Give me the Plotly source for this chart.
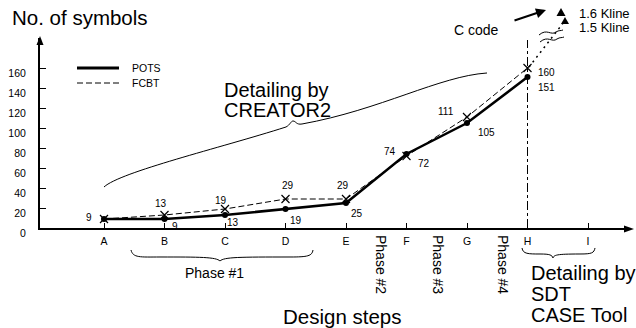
import plotly.graph_objects as go

# ---------------- data ----------------
steps = ["A", "B", "C", "D", "E", "F", "G", "H", "I"]
pots_steps = ["A", "B", "C", "D", "E", "F", "G", "H"]
pots_values = [9, 9, 13, 19, 25, 74, 105, 151]
fcbt_steps = ["A", "B", "C", "D", "E", "F", "G", "H"]
fcbt_values = [9, 13, 19, 29, 29, 72, 111, 160]
y_ticks = [0, 20, 40, 60, 80, 100, 120, 140, 160]
kline_labels = ["1.6 Kline", "1.5 Kline"]

FONT = "Arial, 'Liberation Sans', sans-serif"

# ---------------- geometry helpers (layout only) ----------------
L, T, W, H = 40, 38, 590, 190
FIG_W, FIG_H = 636, 328


def px(x):
    return (x - L) / W


def py(y):
    return (T + H - y) / H


def path(points, close=False):
    s = "M " + " L ".join(f"{px(x):.5f},{py(y):.5f}" for x, y in points)
    return s + (" Z" if close else "")


def cpath(start, segs):
    s = f"M {px(start[0]):.5f},{py(start[1]):.5f}"
    for (a, b, c) in segs:
        s += " C " + " ".join(f"{px(p[0]):.5f},{py(p[1]):.5f}" for p in (a, b, c))
    return s


idx = {s: i for i, s in enumerate(steps)}
pots_x = [idx[s] for s in pots_steps]
fcbt_x = [idx[s] for s in fcbt_steps]

fig = go.Figure()
fig.add_trace(go.Scatter(
    x=fcbt_x, y=fcbt_values, mode="lines+markers", name="FCBT",
    line=dict(color="black", width=1, dash="6px,3px"),
    marker=dict(symbol="x-thin-open", size=8, line=dict(color="black", width=1.2)),
    showlegend=False, cliponaxis=False, hoverinfo="skip",
))
fig.add_trace(go.Scatter(
    x=pots_x, y=pots_values, mode="lines+markers", name="POTS",
    line=dict(color="black", width=2.5),
    marker=dict(symbol="circle", size=6, color="black"),
    showlegend=False, cliponaxis=False, hoverinfo="skip",
))

annotations = []
# data labels (offsets in pixels)
pots_off = [(-15, 2), (10, -7), (8, -7), (10, -11), (11, -10), (-17, 3), (19, -9), (19, -10)]
fcbt_off = [None, (-4, 12), (-4, 9), (2, 14), (-3, 14), (17, -7), (-21, 6), (19, -4)]
for xs, vals, offs in ((pots_x, pots_values, pots_off), (fcbt_x, fcbt_values, fcbt_off)):
    for x, v, o in zip(xs, vals, offs):
        if o is None:
            continue
        annotations.append(dict(x=x, y=v, xref="x", yref="y", text=str(v), showarrow=False,
                                xshift=o[0], yshift=o[1], font=dict(size=10, color="black", family=FONT)))


def txt(x, y, s, size, xanchor="center", angle=0):
    annotations.append(dict(x=px(x), y=py(y), xref="paper", yref="paper", text=s, showarrow=False,
                            xanchor=xanchor, yanchor="middle", textangle=angle,
                            font=dict(size=size, color="black", family=FONT)))


txt(10, 18, "No. of symbols", 20.5, "left")
txt(130, 68, "POTS", 10.5, "left")
txt(130, 83, "FCBT", 10.5, "left")
txt(222, 90, "Detailing by", 20, "left")
txt(222, 110, "CREATOR2", 20, "left")
txt(214, 273, "Phase #1", 14)
txt(381, 264, "Phase #2", 14, angle=90)
txt(438, 264, "Phase #3", 14, angle=90)
txt(503, 264, "Phase #4", 14, angle=90)
txt(342, 316, "Design steps", 20.5)
txt(529, 273, "Detailing by", 20, "left")
txt(529, 294, "SDT", 20, "left")
txt(529, 315, "CASE Tool", 20, "left")
txt(476, 30, "C code", 14)
txt(577, 13, kline_labels[0], 13, "left")
txt(577, 27, kline_labels[1], 13, "left")

# C code arrow
annotations.append(dict(x=px(546), y=py(10), xref="paper", yref="paper", ax=513 - 546, ay=21 - 10,
                        text="", showarrow=True,
                        arrowhead=2, arrowsize=1, arrowwidth=2, arrowcolor="black"))

shapes = []
# axis arrows
shapes.append(dict(type="path", xref="paper", yref="paper", path=path([(40, 36), (36.5, 45), (43.5, 45)], True),
                   fillcolor="black", line=dict(width=0)))
shapes.append(dict(type="path", xref="paper", yref="paper", path=path([(634, 229), (624, 225.5), (624, 232.5)], True),
                   fillcolor="black", line=dict(width=0)))
# legend lines
shapes.append(dict(type="line", xref="paper", yref="paper", x0=px(77), x1=px(119), y0=py(68), y1=py(68),
                   line=dict(color="black", width=3)))
shapes.append(dict(type="line", xref="paper", yref="paper", x0=px(77), x1=px(119), y0=py(83), y1=py(83),
                   line=dict(color="black", width=1, dash="6px,3px")))
# vertical dash-dot line at H
shapes.append(dict(type="line", xref="x", yref="y", x0=idx["H"], x1=idx["H"], y0=0, y1=188,
                   line=dict(color="black", width=1, dash="dashdot")))
# dotted extension to Kline values
shapes.append(dict(type="line", xref="paper", yref="paper", x0=px(529), y0=py(67), x1=px(564), y1=py(22),
                   line=dict(color="black", width=1.5, dash="2px,4px")))
# Kline triangles
shapes.append(dict(type="path", xref="paper", yref="paper", path=path([(561, 8), (556.5, 16), (565.5, 16)], True),
                   fillcolor="black", line=dict(width=0)))
shapes.append(dict(type="path", xref="paper", yref="paper", path=path([(565, 17), (561, 24), (569, 24)], True),
                   fillcolor="black", line=dict(width=0)))
# break squiggles
shapes.append(dict(type="path", xref="paper", yref="paper",
                   path=cpath((539, 35), [((547, 28), (551, 36), (556, 32)), ((559, 30), (561, 31), (563, 30))]),
                   line=dict(color="black", width=1)))
shapes.append(dict(type="path", xref="paper", yref="paper",
                   path=cpath((540, 42), [((548, 35), (552, 43), (557, 39)), ((560, 37), (562, 38), (564, 37))]),
                   line=dict(color="black", width=1)))
# big brace (Detailing by CREATOR2)
shapes.append(dict(type="path", xref="paper", yref="paper",
                   path=cpath((104, 187), [((120, 172), (220, 148), (286, 127)),
                                           ((290, 125), (291, 121), (293, 121)),
                                           ((296, 121), (296, 125), (302, 124)),
                                           ((380, 110), (440, 76), (487, 73))]),
                   line=dict(color="black", width=1)))
# Phase #1 brace
shapes.append(dict(type="path", xref="paper", yref="paper",
                   path=cpath((131, 250), [((133, 258), (140, 257), (160, 257)),
                                           ((200, 257), (216, 257), (220, 261)),
                                           ((224, 257), (240, 257), (290, 257)),
                                           ((308, 257), (312, 256), (313, 250))]),
                   line=dict(color="black", width=1)))
# H-I brace
shapes.append(dict(type="path", xref="paper", yref="paper",
                   path=cpath((522, 248), [((523, 254), (528, 254), (540, 254)),
                                           ((550, 254), (552, 255), (553, 258)),
                                           ((554, 255), (556, 254), (580, 254)),
                                           ((592, 254), (594, 253), (595, 248))]),
                   line=dict(color="black", width=1)))

x0 = -64 / 60.5
fig.update_layout(
    width=FIG_W, height=FIG_H,
    margin=dict(l=L, r=FIG_W - L - W, t=T, b=FIG_H - T - H, pad=0),
    paper_bgcolor="white", plot_bgcolor="white",
    font=dict(family=FONT, color="black", size=10.5),
    hovermode=False, dragmode=False,
    xaxis=dict(range=[x0, x0 + W / 60.5], tickvals=list(range(len(steps))), ticktext=steps,
               showgrid=False, zeroline=False, showline=True, linecolor="black", linewidth=2,
               ticks="inside", ticklen=5, tickwidth=1, tickcolor="black",
               tickfont=dict(size=10.5, family=FONT, color="black"), ticklabelstandoff=2, fixedrange=True),
    yaxis=dict(range=[0, H], tickvals=y_ticks, ticktext=[str(v) for v in y_ticks],
               showgrid=False, zeroline=False, showline=True, linecolor="black", linewidth=2,
               ticks="inside", ticklen=6, tickwidth=1, tickcolor="black",
               tickfont=dict(size=10.5, family=FONT, color="black"), ticklabelstandoff=10,
               ticklabelshift=5, fixedrange=True),
    annotations=annotations, shapes=shapes, showlegend=False,
)
fig.write_html("out.html",
               config={"displayModeBar": False, "staticPlot": True},
               post_script="document.body.style.margin='0px';document.body.style.overflow='hidden';")
